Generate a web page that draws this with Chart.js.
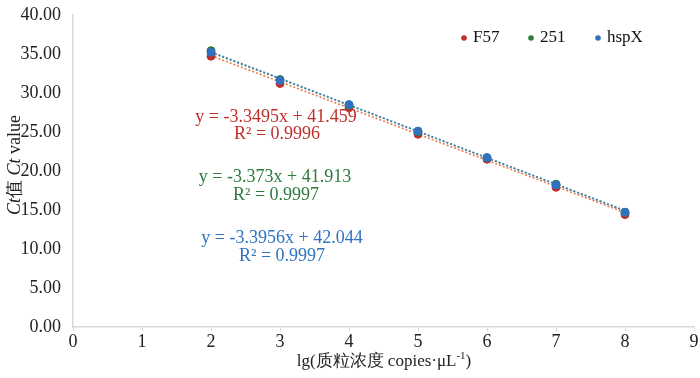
<!DOCTYPE html>
<html lang="zh">
  <head>
    <meta charset="UTF-8" />
    <title>Ct standard curves</title>
    <script src="https://cdn.jsdelivr.net/npm/chart.js"></script>
    <style>
      html, body { margin: 0; padding: 0; background: #fff; }
      #wrap { width: 700px; height: 378px; position: relative; }
    </style>
  </head>
  <body>
    <div id="wrap"><canvas id="ct-chart"></canvas></div>

    <script>
      // lg(copies/uL)
      const logConc = [2, 3, 4, 5, 6, 7, 8];
      // Ct values
      const ctF57 = [34.7, 31.2, 28.1, 24.7, 21.5, 17.9, 14.4];
      const ct251 = [35.4, 31.7, 28.4, 25.0, 21.7, 18.3, 14.7];
      const ctHspX = [35.2, 31.6, 28.5, 25.1, 21.7, 18.2, 14.7];
      // fitted lines as printed on the chart
      const slopes = [-3.3495, -3.373, -3.3956];
      const intercepts = [41.459, 41.913, 42.044];
      const r2 = ['0.9996', '0.9997', '0.9997'];
      const seriesNames = ['F57', '251', 'hspX'];
      const xTicks = [0, 1, 2, 3, 4, 5, 6, 7, 8, 9];
      const yTicks = [0, 5, 10, 15, 20, 25, 30, 35, 40];

      const colors = ['#c0302a', '#2e7a3c', '#2f72c0'];
      const trendColors = ['#ee7a4a', '#4f8a6a', '#4a86b8'];
      const serif = '"Liberation Serif", "Times New Roman", serif';

      const allCt = [ctF57, ct251, ctHspX];

      // later series sit on top, like the original
      const pointSets = allCt.map((vals, i) => ({
        label: seriesNames[i],
        data: logConc.map((x, k) => ({ x: x, y: vals[k] })),
        backgroundColor: colors[i],
        borderColor: colors[i],
        pointRadius: 4,
        showLine: false,
        order: 2 - i,
      }));

      const xFirst = logConc[0];
      const xLast = logConc[logConc.length - 1];
      const trendSets = slopes.map((m, i) => ({
        label: 'trend ' + seriesNames[i],
        data: [
          { x: xFirst, y: m * xFirst + intercepts[i] },
          { x: xLast, y: m * xLast + intercepts[i] },
        ],
        borderColor: trendColors[i],
        borderWidth: 1.6,
        borderDash: [2, 2],
        pointRadius: 0,
        showLine: true,
        order: 5 - i,
      }));

      // equation labels, legend and axis titles
      const textPlugin = {
        id: 'texts',
        afterDraw(chart) {
          const ctx = chart.ctx;
          ctx.save();
          ctx.textBaseline = 'middle';
          ctx.textAlign = 'center';
          ctx.font = '18px ' + serif;
          const eqPos = [
            [276, 117, 277, 134],
            [275, 177, 276, 195],
            [282, 238, 282, 256],
          ];
          slopes.forEach((m, i) => {
            const p = eqPos[i];
            ctx.fillStyle = colors[i];
            ctx.fillText('y = ' + m + 'x + ' + intercepts[i].toFixed(3), p[0], p[1]);
            ctx.fillText('R\u00b2 = ' + r2[i], p[2], p[3]);
          });

          // legend
          const legX = [464, 531, 598];
          ctx.textAlign = 'left';
          ctx.font = '17px ' + serif;
          seriesNames.forEach((name, i) => {
            ctx.fillStyle = colors[i];
            ctx.beginPath();
            ctx.arc(legX[i], 38, 2.8, 0, Math.PI * 2);
            ctx.fill();
            ctx.fillStyle = '#111';
            ctx.fillText(name, legX[i] + 9, 38);
          });

          // x title
          ctx.fillStyle = '#222';
          ctx.font = '17px ' + serif;
          const xt = 'lg(\u8d28\u7c92\u6d53\u5ea6 copies\u00b7\u03bcL';
          const xw = ctx.measureText(xt).width;
          ctx.font = '11px ' + serif;
          const supw = ctx.measureText('-1').width;
          ctx.font = '17px ' + serif;
          const closeW = ctx.measureText(')').width;
          let sx = 384 - (xw + supw + closeW) / 2;
          ctx.fillText(xt, sx, 362);
          sx += xw;
          ctx.font = '11px ' + serif;
          ctx.fillText('-1', sx, 356);
          sx += supw;
          ctx.font = '17px ' + serif;
          ctx.fillText(')', sx, 362);

          // y title, rotated, with italic Ct
          ctx.translate(15, 165);
          ctx.rotate(-Math.PI / 2);
          const parts = [
            ['italic 18px ' + serif, 'Ct'],
            ['18px ' + serif, '\u503c '],
            ['italic 18px ' + serif, 'Ct'],
            ['18px ' + serif, ' value'],
          ];
          let total = 0;
          parts.forEach(p => { ctx.font = p[0]; total += ctx.measureText(p[1]).width; });
          let px = -total / 2;
          parts.forEach(p => {
            ctx.font = p[0];
            ctx.fillText(p[1], px, 0);
            px += ctx.measureText(p[1]).width;
          });
          ctx.restore();
        },
      };

      new Chart(document.getElementById('ct-chart'), {
        type: 'scatter',
        data: { datasets: pointSets.concat(trendSets) },
        options: {
          responsive: true,
          maintainAspectRatio: false,
          animation: false,
          layout: { padding: { top: 8, right: 6, left: 0, bottom: 0 } },
          plugins: {
            legend: { display: false },
            tooltip: { enabled: false },
          },
          scales: {
            x: {
              type: 'linear',
              min: 0,
              max: 9,
              afterBuildTicks: s => { s.ticks = xTicks.map(v => ({ value: v })); },
              afterFit: s => { s.height = 51; },
              grid: { drawOnChartArea: false, drawTicks: true, tickLength: 4, color: '#d9d9d9' },
              border: { color: '#d9d9d9', width: 1.5 },
              ticks: { color: '#222', font: { family: serif, size: 18 }, padding: 0 },
            },
            y: {
              min: 0,
              max: 40,
              afterBuildTicks: s => { s.ticks = yTicks.map(v => ({ value: v })); },
              afterFit: s => { s.width = 73; },
              grid: { display: false },
              border: { color: '#d9d9d9', width: 1.5 },
              ticks: {
                color: '#222',
                font: { family: serif, size: 18 },
                padding: 4,
                callback: v => v.toFixed(2),
              },
            },
          },
        },
        plugins: [textPlugin],
      });
    </script>
  </body>
</html>
